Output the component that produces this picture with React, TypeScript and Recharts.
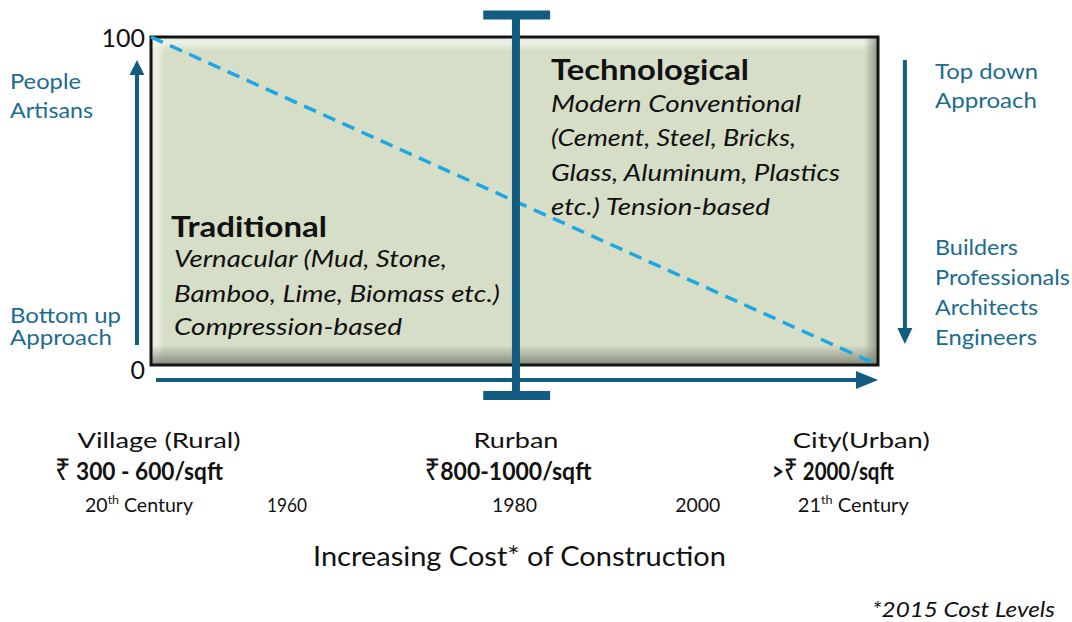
import React from "react";
import { ComposedChart, Line, XAxis, YAxis, ReferenceArea, ReferenceLine } from "recharts";

// ---------------- data ----------------
const trend = [
  { cost: 0, share: 100 },
  { cost: 100, share: 0 },
];
const leftTicks = [0, 100];
const rightTicks = [0, 100];

const regionNames = ["Village (Rural)", "Rurban", "City(Urban)"];
const regionAt = [1.1, 50.2, 97.7];
const costNames = ["₹ 300 - 600/sqft", "₹800-1000/sqft", ">₹ 2000/sqft"];
const costAt = [-1.65, 49.1, 93.8];
const eraNames = ["20th Century", "1960", "1980", "2000", "21th Century"];
const eraAt = [-1.65, 18.7, 50.0, 75.2, 96.6];

const dividerAt = 50.2;
const dividerSpan = [-10.7, 107.9];
const capSpan = [45.7, 54.9];
const capAt = [-9.3, 106.7];

const upArrow = [{ x: -1.93, y: 6.1 }, { x: -1.93, y: 93 }];
const downArrow = [{ x: 103.7, y: 93 }, { x: 103.7, y: 6.4 }];
const costArrow = [{ x: 0.7, y: -4.57 }, { x: 100, y: -4.57 }];

const traditionalTitle = "Traditional";
const traditionalLines = ["Vernacular (Mud, Stone,", "Bamboo, Lime, Biomass etc.)", "Compression-based"];
const technologicalTitle = "Technological";
const technologicalLines = ["Modern Conventional", "(Cement, Steel, Bricks,", "Glass, Aluminum, Plastics", "etc.) Tension-based"];
const peopleLabels = ["People", "Artisans"];
const bottomUpLabels = ["Bottom up", "Approach"];
const topDownLabels = ["Top down", "Approach"];
const professionalLabels = ["Builders", "Professionals", "Architects", "Engineers"];
const axisTitle = "Increasing Cost* of Construction";
const footnote = "*2015 Cost Levels";

// ---------------- styles ----------------
const FONT = "Lato, 'Open Sans', 'Noto Sans', sans-serif";
const RUPEE_FONT = "'Noto Sans', 'DejaVu Sans', sans-serif";
const DARK = "#115c80";
const BLUE_TEXT = "#1b6c91";
const DASH = "#1fa7e3";

const W = {
  region: [163, 85, 137],
  cost: [168, 167, 122],
  era: [108, 40, 45, 45, 111],
  trad: [273, 326, 228],
  tech: [250, 245, 289, 219],
  people: [71, 83],
  bottomUp: [111, 102],
  topDown: [103, 102],
  prof: [83, 135, 103, 102],
};

type TP = {
  x: number; y: number; w?: number; size: number; weight?: number; italic?: boolean;
  anchor?: "start" | "middle" | "end"; fill?: string; children?: React.ReactNode;
};
function T({ x, y, w, size, weight = 400, italic = false, anchor = "start", fill = "#111", children }: TP) {
  return (
    <text
      x={x}
      y={y}
      fontFamily={FONT}
      fontSize={size}
      fontWeight={weight}
      fontStyle={italic ? "italic" : "normal"}
      textAnchor={anchor}
      fill={fill}
      textLength={w}
      lengthAdjust={w ? "spacingAndGlyphs" : undefined}
    >
      {children}
    </text>
  );
}

const arrowShape = (headLen: number, halfW: number) => (p: any) => {
  const x1 = Number(p.x1), y1 = Number(p.y1), x2 = Number(p.x2), y2 = Number(p.y2);
  const dx = x2 - x1, dy = y2 - y1;
  const L = Math.hypot(dx, dy) || 1;
  const ux = dx / L, uy = dy / L;
  const bx = x2 - ux * headLen, by = y2 - uy * headLen;
  const px = -uy * halfW, py = ux * halfW;
  return (
    <g>
      <line x1={x1} y1={y1} x2={bx + ux} y2={by + uy} stroke={DARK} strokeWidth={4} />
      <polygon points={`${x2},${y2} ${bx + px},${by + py} ${bx - px},${by - py}`} fill={DARK} />
    </g>
  );
};

const BoxShape = (p: any) => {
  const x = Number(p.x), y = Number(p.y), w = Number(p.width), h = Number(p.height);
  return (
    <g>
      <defs>
        <linearGradient id="shB" x1="0" y1="0" x2="0" y2="1">
          <stop offset="0" stopColor="#7a8172" stopOpacity="0" />
          <stop offset="1" stopColor="#7a8172" stopOpacity="0.9" />
        </linearGradient>
        <linearGradient id="shR" x1="0" y1="0" x2="1" y2="0">
          <stop offset="0" stopColor="#7a8172" stopOpacity="0" />
          <stop offset="1" stopColor="#7a8172" stopOpacity="0.75" />
        </linearGradient>
        <linearGradient id="hlT" x1="0" y1="0" x2="0" y2="1">
          <stop offset="0" stopColor="#f4f6ee" stopOpacity="0.3" />
          <stop offset="0.35" stopColor="#f4f6ee" stopOpacity="0.8" />
          <stop offset="1" stopColor="#f4f6ee" stopOpacity="0" />
        </linearGradient>
        <linearGradient id="hlL" x1="0" y1="0" x2="1" y2="0">
          <stop offset="0" stopColor="#f4f6ee" stopOpacity="0.3" />
          <stop offset="0.35" stopColor="#f4f6ee" stopOpacity="0.8" />
          <stop offset="1" stopColor="#f4f6ee" stopOpacity="0" />
        </linearGradient>
      </defs>
      <rect x={x} y={y} width={w} height={h} fill="#d6dec8" />
      <rect x={x} y={y} width={w} height={14} fill="url(#hlT)" />
      <rect x={x} y={y} width={14} height={h} fill="url(#hlL)" />
      <rect x={x} y={y + h - 20} width={w} height={20} fill="url(#shB)" />
      <rect x={x + w - 14} y={y} width={14} height={h} fill="url(#shR)" />
      <rect x={x} y={y} width={w} height={h} fill="none" stroke="#141414" strokeWidth={3} />
    </g>
  );
};

const BoxTexts = (props: any) => {
  const vb = props.viewBox || {};
  const bx = Number(vb.x), by = Number(vb.y), bw = Number(vb.width);
  const rx = bx + bw + 57;
  return (
    <g>
      <T x={bx + 20} y={by + 200} size={29} weight={700} w={156}>{traditionalTitle}</T>
      {traditionalLines.map((s, i) => (
        <T key={s} x={bx + 23} y={by + [230, 265, 298][i]} size={23} italic w={W.trad[i]}>{s}</T>
      ))}
      <T x={bx + 400} y={by + 43} size={29} weight={700} w={198}>{technologicalTitle}</T>
      {technologicalLines.map((s, i) => (
        <T key={s} x={bx + 400} y={by + [75, 109, 144, 178][i]} size={24} italic w={W.tech[i]}>{s}</T>
      ))}
      {peopleLabels.map((s, i) => (
        <T key={s} x={bx - 141} y={by + [52, 81][i]} size={22} fill={BLUE_TEXT} w={W.people[i]}>{s}</T>
      ))}
      {bottomUpLabels.map((s, i) => (
        <T key={s + i} x={bx - 141} y={by + [286, 308][i]} size={22} fill={BLUE_TEXT} w={W.bottomUp[i]}>{s}</T>
      ))}
      {topDownLabels.map((s, i) => (
        <T key={s + i} x={rx} y={by + [42, 71][i]} size={22} fill={BLUE_TEXT} w={W.topDown[i]}>{s}</T>
      ))}
      {professionalLabels.map((s, i) => (
        <T key={s} x={rx} y={by + [218, 248, 278, 308][i]} size={22} fill={BLUE_TEXT} w={W.prof[i]}>{s}</T>
      ))}
    </g>
  );
};

const RegionTick = (p: any) => {
  const i = regionAt.indexOf(p.payload.value);
  if (i < 0) return <g />;
  return <T x={p.x} y={p.y + 83} size={22} anchor="middle" w={W.region[i]}>{regionNames[i]}</T>;
};

const CostTick = (p: any) => {
  const i = costAt.indexOf(p.payload.value);
  if (i < 0) return <g />;
  const parts = costNames[i].split("₹");
  return (
    <text
      x={p.x}
      y={p.y + 25}
      fontFamily={FONT}
      fontSize={25}
      fontWeight={700}
      textAnchor="middle"
      fill="#111"
      textLength={W.cost[i]}
      lengthAdjust="spacingAndGlyphs"
    >
      {parts[0] ? <tspan>{parts[0]}</tspan> : null}
      <tspan fontFamily={RUPEE_FONT} fontSize={30} fontWeight={400}>₹</tspan>
      <tspan>{parts[1]}</tspan>
    </text>
  );
};

const EraTick = (p: any) => {
  const i = eraAt.indexOf(p.payload.value);
  if (i < 0) return <g />;
  const s = eraNames[i];
  const m = s.match(/^(\d+)(th)(.*)$/);
  return (
    <text
      x={p.x}
      y={p.y + 22}
      fontFamily={FONT}
      fontSize={19}
      textAnchor="middle"
      fill="#111"
      textLength={W.era[i]}
      lengthAdjust="spacingAndGlyphs"
    >
      {m ? (
        <>
          <tspan>{m[1]}</tspan>
          <tspan fontSize={12} dy={-8}>{m[2]}</tspan>
          <tspan dy={8}>{m[3]}</tspan>
        </>
      ) : (
        s
      )}
    </text>
  );
};

const EraAxisLabel = (props: any) => {
  const vb = props.viewBox || {};
  const x = Number(vb.x), y = Number(vb.y), w = Number(vb.width);
  return (
    <g>
      <T x={x + w / 2 + 5} y={y + 76} size={27} anchor="middle" w={413}>{axisTitle}</T>
      <T x={x + w + 177} y={y + 127} size={21} italic anchor="end" w={183}>{footnote}</T>
    </g>
  );
};

export default function App() {
  return (
    <div style={{ position: "absolute", left: 0, top: 0, width: 1072, height: 622, background: "#fff" }}>
      <ComposedChart width={1072} height={622} data={trend} margin={{ top: 37, right: 0, bottom: 0, left: 0 }}>
        <XAxis
          xAxisId="x1region"
          type="number"
          dataKey="cost"
          domain={[0, 100]}
          ticks={regionAt}
          interval={0}
          axisLine={false}
          tickLine={false}
          tickSize={0}
          tickMargin={0}
          height={90}
          tick={RegionTick}
        />
        <XAxis
          xAxisId="x2cost"
          type="number"
          dataKey="cost"
          domain={[0, 100]}
          ticks={costAt}
          interval={0}
          axisLine={false}
          tickLine={false}
          tickSize={0}
          tickMargin={0}
          height={35}
          tick={CostTick}
        />
        <XAxis
          xAxisId="x3era"
          type="number"
          dataKey="cost"
          domain={[0, 100]}
          ticks={eraAt}
          interval={0}
          axisLine={false}
          tickLine={false}
          tickSize={0}
          tickMargin={0}
          height={132}
          tick={EraTick}
          label={{ content: EraAxisLabel }}
        />
        <YAxis
          yAxisId="left"
          type="number"
          domain={[0, 100]}
          ticks={leftTicks}
          width={151}
          axisLine={false}
          tickLine={false}
          tickSize={0}
          tickMargin={6}
          interval={0}
          tick={(p: any) => (
            <text x={p.x} y={p.y + (p.payload.value === 0 ? 14 : 10)} textAnchor="end" fontFamily={FONT} fontSize={25} fill="#111">
              {p.payload.value}
            </text>
          )}
        />
        <YAxis
          yAxisId="right"
          orientation="right"
          type="number"
          domain={[0, 100]}
          reversed
          ticks={rightTicks}
          width={194}
          axisLine={false}
          tickLine={false}
          tickSize={0}
          tickMargin={28}
          interval={0}
          tick={(p: any) => (
            <text x={p.x} y={p.y + (p.payload.value === 0 ? 8 : 2)} textAnchor="middle" fontFamily={FONT} fontSize={25} fill="#111">
              {p.payload.value}
            </text>
          )}
        />
        <ReferenceArea
          xAxisId="x1region"
          yAxisId="left"
          x1={0}
          x2={100}
          y1={0}
          y2={100}
          shape={BoxShape}
          label={{ content: BoxTexts }}
          ifOverflow="visible"
        />
        <Line
          xAxisId="x1region"
          yAxisId="left"
          type="linear"
          dataKey="share"
          stroke={DASH}
          strokeWidth={3.5}
          strokeDasharray="13 8"
          dot={false}
          activeDot={false}
          isAnimationActive={false}
        />
        <ReferenceLine xAxisId="x1region" yAxisId="left" segment={costArrow} ifOverflow="visible" shape={arrowShape(22, 9)} />
        <ReferenceLine xAxisId="x1region" yAxisId="left" segment={upArrow} ifOverflow="visible" shape={arrowShape(15, 7.5)} />
        <ReferenceLine xAxisId="x1region" yAxisId="left" segment={downArrow} ifOverflow="visible" shape={arrowShape(16, 7.5)} />
        <ReferenceLine
          xAxisId="x1region"
          yAxisId="left"
          segment={[{ x: dividerAt, y: dividerSpan[0] }, { x: dividerAt, y: dividerSpan[1] }]}
          ifOverflow="visible"
          stroke={DARK}
          strokeWidth={8}
        />
        {capAt.map((cy) => (
          <ReferenceLine
            key={cy}
            xAxisId="x1region"
            yAxisId="left"
            segment={[{ x: capSpan[0], y: cy }, { x: capSpan[1], y: cy }]}
            ifOverflow="visible"
            stroke={DARK}
            strokeWidth={9}
          />
        ))}
      </ComposedChart>
    </div>
  );
}
